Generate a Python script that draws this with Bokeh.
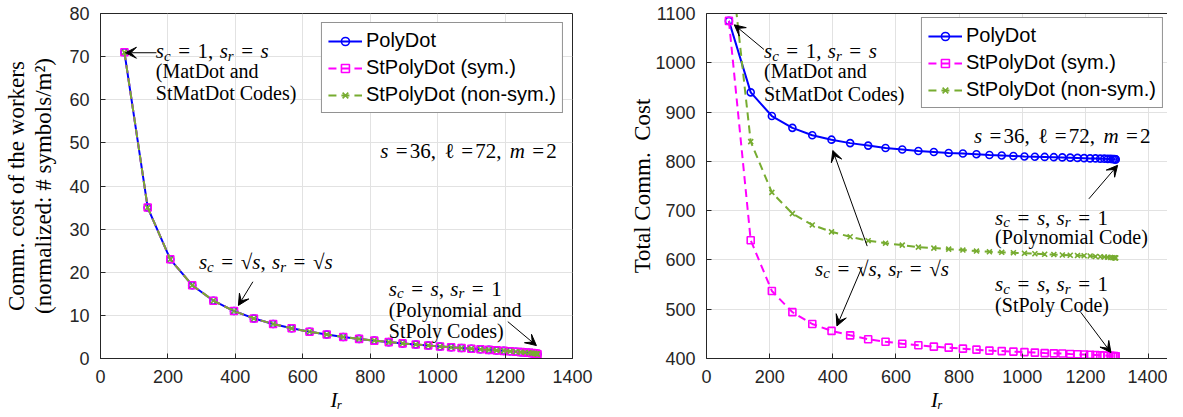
import math
from bokeh.plotting import figure
from bokeh.layouts import row
from bokeh.models import (Range1d, LinearAxis, SingleIntervalTicker, FixedTicker, Label,
                          Arrow, VeeHead, Legend, LegendItem)
from bokeh.embed import file_html
from bokeh.resources import INLINE

# ---------------- data ----------------
I_r = [71, 140, 207, 272, 335, 396, 455, 512, 567, 620, 671, 720, 767, 812, 855, 896,
       935, 972, 1007, 1040, 1071, 1100, 1127, 1152, 1175, 1196, 1215, 1232, 1247, 1260,
       1271, 1280, 1287, 1292, 1295, 1296]

worker_cost = [71, 35, 23, 17, 13.4, 11, 9.29, 8, 7, 6.2, 5.55, 5, 4.54, 4.14, 3.8, 3.5,
               3.24, 3, 2.79, 2.6, 2.43, 2.27, 2.13, 2, 1.88, 1.77, 1.67, 1.57, 1.48, 1.4,
               1.32, 1.25, 1.18, 1.12, 1.06, 1]

total_polydot = [1085, 940, 892, 868, 853, 844, 837, 832, 827, 824, 821, 819, 817, 816,
                 814.5, 813, 812, 811, 810, 809.5, 809, 808.5, 808, 807.5, 807, 806.5, 806,
                 806, 805.5, 805.5, 805, 805, 804.5, 804.5, 804, 804]

total_st_sym = [1085, 640, 537, 494, 470, 456, 447, 439, 434, 430, 427, 424, 422, 420, 418,
                416, 415, 414, 413, 412, 411, 410.5, 410, 409, 408.5, 408, 407.5, 407,
                406.5, 406, 405.5, 405.5, 405, 405, 404.5, 404.5]

total_st_nonsym = [1240, 840, 737, 694, 671, 657, 647, 639, 634, 630, 626, 624, 622, 620,
                   618, 616.5, 615.5, 614.5, 613.5, 612.5, 611.5, 611, 610, 609.5, 609,
                   608.5, 608, 607, 606.5, 606, 605.5, 605, 604.5, 604.5, 604, 604]

series_names = ["PolyDot", "StPolyDot (sym.)", "StPolyDot (non-sym.)"]

# ---------------- style ----------------
SERIF = "Liberation Serif"
SANS = "Liberation Sans"
AX = "#262626"
GRID = "#e2e2e2"
BLUE = "#0000FF"
MAGENTA = "#FF00FF"
GREEN = "#77AC30"

WID = {('s', True): 0.389, ('c', True): 0.444, ('r', True): 0.389, ('m', True): 0.722,
       ('I', True): 0.333, ('=', False): 0.564, (',', False): 0.25, ('√', False): 0.549,
       ('ℓ', False): 0.45}


def text_width(txt, italic, fs):
    return sum(WID.get((ch, italic), 0.5) for ch in txt) * fs


def mtext(p, x, y, tokens, size=21):
    """Math-like text made of several real text labels (italic symbols, subscripts)."""
    off = 0.0
    for txt, kind in tokens:
        if kind == 'sp':
            off += float(txt) * size
            continue
        fs = size
        italic = kind in ('i', 'sub')
        dy = 0.0
        pre = post = 0.0
        if kind == 'sub':
            fs = round(size * 0.7)
            dy = -0.22 * size
        if kind == 'op':
            pre = post = 0.36 * size
        off += pre
        p.add_layout(Label(x=x, y=y, x_offset=off, y_offset=-0.33 * size + dy, text=txt,
                           text_font=SERIF, text_font_style='italic' if italic else 'normal',
                           text_font_size=f"{fs}px", text_color="black",
                           text_align="left", text_baseline="alphabetic"))
        off += text_width(txt, italic, fs) + post


def ptext(p, x, y, txt, size=20):
    p.add_layout(Label(x=x, y=y, y_offset=-0.33 * size, text=txt, text_font=SERIF,
                       text_font_size=f"{size}px", text_color="black",
                       text_align="left", text_baseline="alphabetic"))


def arrow(p, x0, y0, x1, y1):
    p.add_layout(Arrow(end=VeeHead(size=11, fill_color="black", line_color="black",
                                   line_width=1),
                       x_start=x0, y_start=y0, x_end=x1, y_end=y1,
                       line_color="black", line_width=1))


def style_axes(p, xint, yint):
    xt = SingleIntervalTicker(interval=xint)
    yt = SingleIntervalTicker(interval=yint)
    p.xaxis.ticker = xt
    p.yaxis.ticker = yt
    p.xgrid.ticker = xt
    p.ygrid.ticker = yt
    for ax in [p.below[0], p.left[0]]:
        ax.axis_line_color = AX
        ax.axis_line_width = 1
        ax.major_tick_line_color = AX
        ax.major_tick_in = 5
        ax.major_tick_out = 0
        ax.minor_tick_line_color = None
        ax.major_label_text_font = SANS
        ax.major_label_text_color = AX
        ax.major_label_text_font_size = "18px"
        ax.major_label_standoff = 7
        ax.axis_label_text_font = SERIF
        ax.axis_label_text_font_style = "normal"
        ax.axis_label_text_color = "black"
    p.xaxis.axis_label = "I\u1d63"
    p.xaxis.axis_label_text_font_style = "italic"
    p.xaxis.axis_label_text_font_size = "21px"
    p.xaxis.axis_label_standoff = 2
    p.xgrid.grid_line_color = GRID
    p.ygrid.grid_line_color = GRID
    p.background_fill_color = "white"
    p.border_fill_color = "white"


def label_axis(text, standoff):
    return LinearAxis(ticker=FixedTicker(ticks=[]), axis_line_color=None,
                      major_tick_line_color=None, minor_tick_line_color=None,
                      axis_label=text, axis_label_text_font=SERIF,
                      axis_label_text_font_size="23px", axis_label_text_font_style="normal",
                      axis_label_text_color="black", axis_label_standoff=standoff)


def add_series(p, ys_list):
    colors = [BLUE, MAGENTA, GREEN]
    dashes = ["solid", "8 5", "8 5"]
    markers = ["circle", "square", "x"]
    items = []
    for ys, c, d, m, name in zip(ys_list, colors, dashes, markers, series_names):
        ln = p.line(I_r, ys, line_color=c, line_width=2, line_dash=d)
        sc = p.scatter(I_r, ys, marker=m, size=7, line_color=c, line_width=1.6,
                       fill_color=None)
        items.append(LegendItem(label=name, renderers=[ln, sc]))
    return items


def make_legend(items, **kw):
    return Legend(items=items, border_line_color=AX, border_line_width=1,
                  background_fill_color="white", background_fill_alpha=1,
                  label_text_font=SANS, label_text_font_size="20px", label_text_color="black",
                  glyph_width=34, glyph_height=20, label_height=22, spacing=4, padding=6,
                  label_standoff=4, **kw)


H = 414
TOP = 13
BOTTOM = 55

# ---------------- left figure ----------------
p1 = figure(width=600, height=H, min_border_left=90, min_border_right=28,
            min_border_top=TOP, min_border_bottom=BOTTOM,
            x_range=Range1d(0, 1400), y_range=Range1d(0, 80),
            output_backend="svg", toolbar_location=None)
p1.outline_line_color = AX
style_axes(p1, 200, 10)
p1.yaxis.axis_label = "(normalized: # symbols/m²)"
p1.yaxis.axis_label_text_font_size = "23px"
p1.yaxis.axis_label_standoff = 10
p1.add_layout(label_axis("Comm. cost of the workers", 0), "left")
items1 = add_series(p1, [worker_cost, worker_cost, worker_cost])
p1.add_layout(make_legend(items1, location="top_right", margin=9))

mtext(p1, 164, 72.8, [('s', 'i'), ('c', 'sub'), ('=', 'op'), ('1', 'r'), (',', 'r'),
                      ('0.3', 'sp'), ('s', 'i'), ('r', 'sub'), ('=', 'op'), ('s', 'i')])
ptext(p1, 164, 68.2, "(MatDot and")
ptext(p1, 164, 63.1, "StMatDot Codes)")
arrow(p1, 166, 70.9, 74, 70.9)

mtext(p1, 292, 23.9, [('s', 'i'), ('c', 'sub'), ('=', 'op'), ('√', 'r'), ('s', 'i'),
                      (',', 'r'), ('0.3', 'sp'), ('s', 'i'), ('r', 'sub'), ('=', 'op'),
                      ('√', 'r'), ('s', 'i')])
arrow(p1, 452, 17.8, 409, 12.3)

mtext(p1, 855, 17.8, [('s', 'i'), ('c', 'sub'), ('=', 'op'), ('s', 'i'), (',', 'r'),
                      ('0.3', 'sp'), ('s', 'i'), ('r', 'sub'), ('=', 'op'), ('1', 'r')])
ptext(p1, 855, 12.8, "(Polynomial and")
ptext(p1, 855, 7.8, "StPoly Codes)")
arrow(p1, 1208, 8.55, 1293, 3.0)

S_TOKENS = [('s', 'i'), ('0.35', 'sp'), ('=', 'r'), ('0.1', 'sp'), ('36', 'r'), (',', 'r'),
            ('0.4', 'sp'), ('ℓ', 'r'), ('0.35', 'sp'), ('=', 'r'), ('0.1', 'sp'), ('72', 'r'),
            (',', 'r'), ('0.4', 'sp'), ('m', 'i'), ('0.35', 'sp'), ('=', 'r'), ('0.1', 'sp'),
            ('2', 'r')]
mtext(p1, 830, 49.7, S_TOKENS)

# ---------------- right figure ----------------
p2 = figure(width=567, height=H, min_border_left=106, min_border_right=0,
            min_border_top=TOP, min_border_bottom=BOTTOM,
            x_range=Range1d(0, 1460), y_range=Range1d(400, 1100),
            output_backend="svg", toolbar_location=None)
p2.outline_line_color = None
style_axes(p2, 200, 100)
p2.yaxis.axis_label = "Total Comm.\u00a0 Cost"
p2.yaxis.axis_label_text_font_size = "23px"
p2.yaxis.axis_label_standoff = -3
top2 = LinearAxis(ticker=FixedTicker(ticks=[]), axis_line_color=AX,
                  major_tick_line_color=None, minor_tick_line_color=None)
p2.add_layout(top2, "above")
items2 = add_series(p2, [total_polydot, total_st_sym, total_st_nonsym])
p2.add_layout(make_legend(items2, location="top_right", margin=4))

mtext(p2, 182, 1037, [('s', 'i'), ('c', 'sub'), ('=', 'op'), ('1', 'r'), (',', 'r'),
                      ('0.3', 'sp'), ('s', 'i'), ('r', 'sub'), ('=', 'op'), ('s', 'i')])
ptext(p2, 182, 997, "(MatDot and")
ptext(p2, 182, 950, "StMatDot Codes)")
arrow(p2, 182, 1027, 88, 1077)

mtext(p2, 344, 596, [('s', 'i'), ('c', 'sub'), ('=', 'op'), ('√', 'r'), ('s', 'i'),
                     (',', 'r'), ('0.3', 'sp'), ('s', 'i'), ('r', 'sub'), ('=', 'op'),
                     ('√', 'r'), ('s', 'i')])
arrow(p2, 509, 628, 400, 822)
arrow(p2, 493, 586, 413, 466)

mtext(p2, 914, 700, [('s', 'i'), ('c', 'sub'), ('=', 'op'), ('s', 'i'), (',', 'r'),
                     ('0.3', 'sp'), ('s', 'i'), ('r', 'sub'), ('=', 'op'), ('1', 'r')])
ptext(p2, 914, 660, "(Polynomial Code)")
arrow(p2, 1211, 724, 1302, 792)

mtext(p2, 914, 565, [('s', 'i'), ('c', 'sub'), ('=', 'op'), ('s', 'i'), (',', 'r'),
                     ('0.3', 'sp'), ('s', 'i'), ('r', 'sub'), ('=', 'op'), ('1', 'r')])
ptext(p2, 914, 521, "(StPoly Code)")
arrow(p2, 1185, 494, 1281, 412)

mtext(p2, 847, 865, S_TOKENS)

layout = row(p1, p2, spacing=0)
open("out.html", "w").write(file_html(layout, INLINE))
